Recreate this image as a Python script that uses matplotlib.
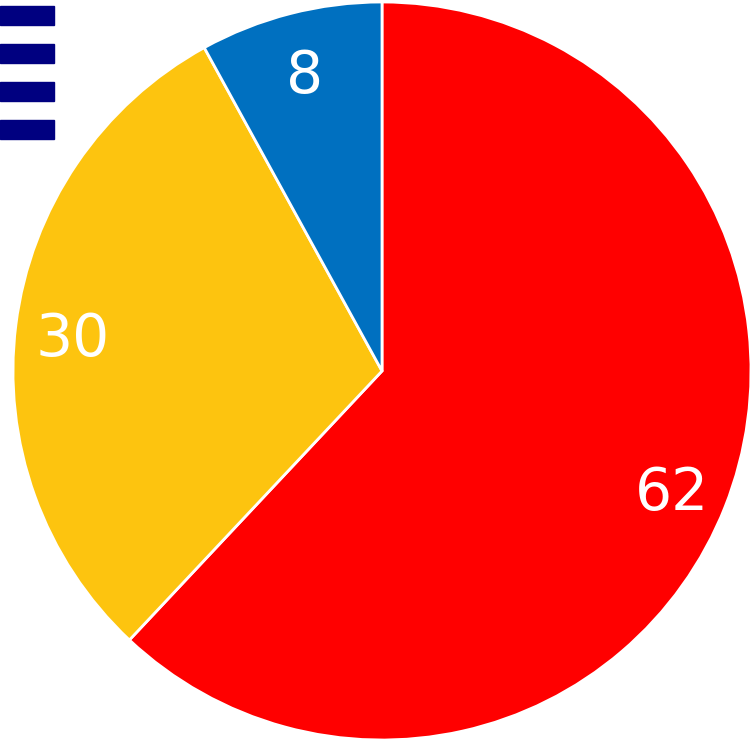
import matplotlib.pyplot as plt
from matplotlib.patches import Rectangle

labels = ["62", "30", "8"]
values = [62, 30, 8]
colors = ["#FF0000", "#FDC40F", "#0070C0"]

W, H = 753, 742
fig = plt.figure(figsize=(W / 100, H / 100), dpi=100)
ax = fig.add_axes([0, 0, 1, 1])
ax.set_xlim(0, W)
ax.set_ylim(0, H)
ax.set_aspect("equal")
ax.set_axis_off()

wedges, texts = ax.pie(values, labels=labels, colors=colors,
                       startangle=90, counterclock=False,
                       center=(382, 371), radius=369,
                       labeldistance=0.845,
                       wedgeprops=dict(edgecolor="white", linewidth=2),
                       textprops=dict(color="white", fontsize=42,
                                      ha="center", va="center"))
# labels sit a bit lower in the original
for t in texts:
    x, y = t.get_position()
    t.set_position((x, y - 8))

ax.set_xlim(0, W)
ax.set_ylim(0, H)

# menu icon, top left
for top in [6, 44, 82, 120]:
    ax.add_patch(Rectangle((0, H - top - 19), 54, 19, color="#000080"))

fig.savefig("out.png", dpi=100)
